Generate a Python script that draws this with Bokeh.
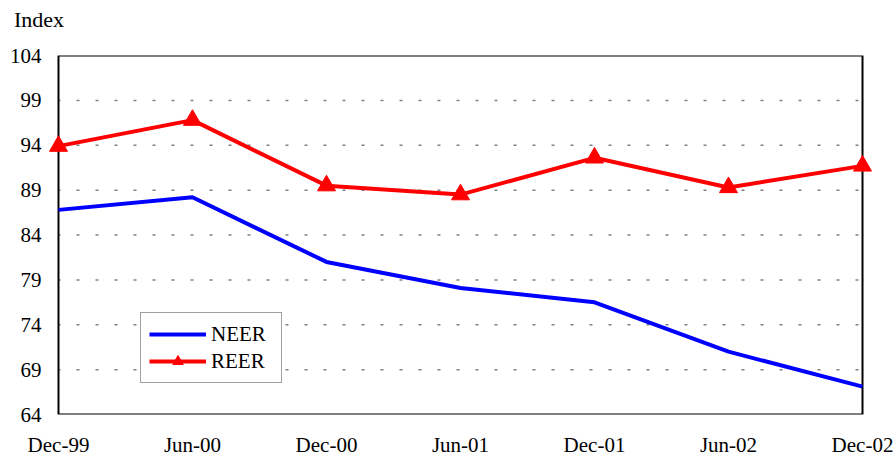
from bokeh.plotting import figure
from bokeh.models import Range1d, FixedTicker, Div
from bokeh.layouts import column
from bokeh.embed import file_html
from bokeh.resources import INLINE

categories = ["Dec-99", "Jun-00", "Dec-00", "Jun-01", "Dec-01", "Jun-02", "Dec-02"]
neer = [86.8, 88.2, 81.0, 78.1, 76.5, 71.0, 67.1]
reer = [93.9, 96.8, 89.5, 88.5, 92.6, 89.3, 91.7]
y_ticks = [64, 69, 74, 79, 84, 89, 94, 99, 104]
y_title = "Index"

FONT = "Liberation Serif"
xs = list(range(len(categories)))
pad = 0.082

header = Div(text=y_title, width=896, height=40, margin=0,
             styles={"font-family": FONT, "font-size": "22px", "color": "black",
                     "padding-left": "14px", "padding-top": "7px", "line-height": "25px"})

p = figure(width=896, height=419, output_backend="svg", toolbar_location=None,
           x_range=Range1d(-pad, len(categories) - 1 + pad),
           y_range=Range1d(y_ticks[0], y_ticks[-1]),
           min_border_left=47, min_border_right=23, min_border_top=15, min_border_bottom=45)
p.outline_line_color = None
p.background_fill_color = "white"
p.border_fill_color = "white"
p.xgrid.visible = False
p.ygrid.visible = False

# dotted gridlines inside the box
inner = y_ticks[1:-1]
p.segment(x0=[xs[0]] * len(inner), x1=[xs[-1]] * len(inner), y0=inner, y1=inner,
          line_color="#808080", line_width=1.5, line_dash="3 16", line_dash_offset=1)
# plot box
p.quad(left=[xs[0]], right=[xs[-1]], bottom=[y_ticks[0]], top=[y_ticks[-1]],
       fill_color=None, line_color="black", line_width=2)

p.line(xs, neer, line_color="#0000FF", line_width=4, legend_label="NEER")
p.line(xs, reer, line_color="#FF0000", line_width=4, legend_label="REER")
p.scatter(xs, reer, marker="triangle", size=18, fill_color="#FF0000", line_color="#FF0000",
          legend_label="REER")

for ax in (p.xaxis[0], p.yaxis[0]):
    ax.axis_line_color = None
    ax.major_tick_line_color = None
    ax.minor_tick_line_color = None
    ax.major_tick_out = 0
    ax.major_tick_in = 0
    ax.major_label_text_font = FONT
    ax.major_label_text_font_size = "21px"
    ax.major_label_text_color = "black"

p.xaxis.ticker = FixedTicker(ticks=xs)
p.xaxis.major_label_overrides = {i: c for i, c in enumerate(categories)}
p.xaxis.major_label_standoff = 18
p.yaxis.ticker = FixedTicker(ticks=y_ticks)
p.yaxis.major_label_standoff = 6

leg = p.legend[0]
leg.location = (93, 31)
leg.label_text_font = FONT
leg.label_text_font_size = "21px"
leg.label_text_color = "black"
leg.border_line_color = "#404040"
leg.border_line_width = 1
leg.background_fill_color = "white"
leg.background_fill_alpha = 1
leg.glyph_width = 57
leg.glyph_height = 26
leg.label_height = 26
leg.label_width = 62
leg.label_standoff = 5
leg.padding = 8
leg.spacing = 1
leg.margin = 0

layout = column(header, p, spacing=0)
open("out.html", "w").write(file_html(layout, INLINE))
